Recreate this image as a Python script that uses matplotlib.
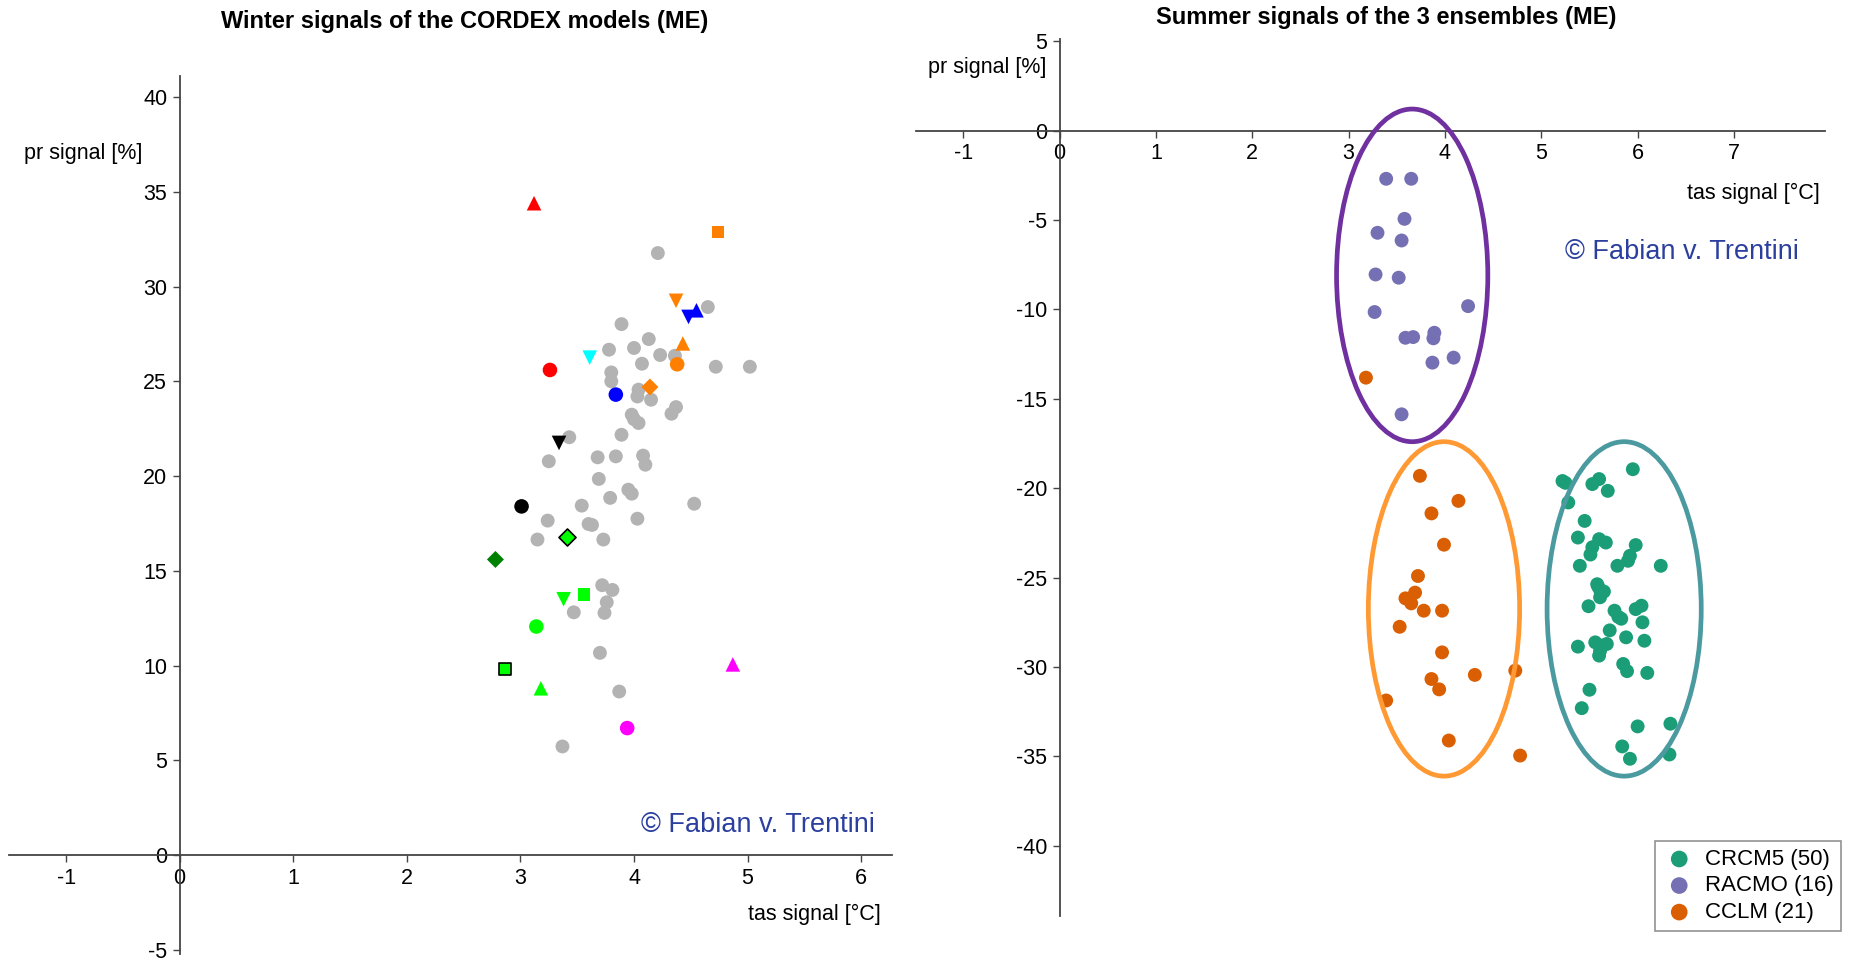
import numpy as np
import matplotlib.pyplot as plt
from matplotlib.patches import Ellipse

plt.rcParams['font.family'] = ['Liberation Sans', 'DejaVu Sans']
plt.rcParams['axes.unicode_minus'] = False

# winter: grey = all CORDEX models
grey_tas = [4.21, 4.65, 3.89, 4.13, 3.78, 4.00, 4.23, 4.36, 4.07, 4.72, 5.02, 3.80, 3.80,
            4.04, 4.03, 4.15, 4.37, 4.33, 3.98, 4.04, 4.00, 3.89, 3.43, 3.25, 3.68, 3.84,
            4.08, 4.10, 3.69, 3.79, 3.95, 3.98, 4.53, 3.54, 3.24, 3.60, 3.63, 4.03, 3.15,
            3.73, 3.72, 3.81, 3.76, 3.74, 3.47, 3.70, 3.87, 3.37]
grey_pr = [31.77, 28.92, 28.02, 27.23, 26.67, 26.76, 26.39, 26.35, 25.93, 25.77, 25.77, 25.47,
           25.0, 24.56, 24.2, 24.03, 23.64, 23.29, 23.24, 22.8, 23.0, 22.18, 22.05, 20.78,
           20.99, 21.04, 21.08, 20.6, 19.85, 18.85, 19.28, 19.07, 18.54, 18.44, 17.65, 17.47,
           17.42, 17.75, 16.65, 16.65, 14.24, 13.99, 13.34, 12.78, 12.81, 10.67, 8.63, 5.73]

# winter: highlighted models
hl_tas = [3.12, 4.74, 4.37, 4.55, 4.48, 4.43, 3.61, 3.26, 4.38, 4.14, 3.84, 3.34, 3.01,
          3.41, 2.78, 3.38, 3.56, 3.14, 2.86, 3.18, 4.87, 3.94]
hl_pr = [34.4, 32.9, 29.25, 28.75, 28.4, 27.0, 26.25, 25.6, 25.9, 24.7, 24.3, 21.75, 18.4,
         16.8, 15.6, 13.5, 13.75, 12.06, 9.8, 8.8, 10.06, 6.7]
hl_color = ['#ff0000', '#ff8000', '#ff8000', '#0000ff', '#0000ff', '#ff8000', '#00ffff',
            '#ff0000', '#ff8000', '#ff8000', '#0000ff', '#000000', '#000000', '#00ff00',
            '#008000', '#00ff00', '#00ff00', '#00ff00', '#00ff00', '#00ff00', '#ff00ff',
            '#ff00ff']
hl_marker = ['^', 's', 'v', '^', 'v', '^', 'v', 'o', 'o', 'D', 'o', 'v', 'o', 'D', 'D',
             'v', 's', 'o', 's', '^', '^', 'o']
hl_edge = ['none'] * 13 + ['black'] + ['none'] * 4 + ['black'] + ['none'] * 3

# summer: three ensembles
crcm5_tas = [5.95, 5.22, 5.25, 5.28, 5.53, 5.60, 5.69, 5.45, 5.38, 5.60, 5.67, 5.53, 5.51,
             5.98, 5.92, 5.90, 5.40, 5.79, 6.24, 5.58, 5.61, 5.65, 5.61, 5.49, 5.76, 5.80,
             5.83, 5.98, 6.04, 6.05, 5.71, 5.56, 5.61, 5.68, 5.88, 6.07, 5.38, 5.60, 5.85,
             5.89, 6.10, 5.50, 5.42, 6.00, 6.34, 5.84, 5.92, 6.33, 5.59, 5.63]
crcm5_pr = [-18.94, -19.6, -19.7, -20.8, -19.77, -19.49, -20.15, -21.83, -22.76, -22.85,
            -23.04, -23.3, -23.71, -23.18, -23.78, -24.06, -24.34, -24.34, -24.34, -25.37,
            -25.7, -25.78, -26.1, -26.6, -26.85, -27.2, -27.3, -26.76, -26.57, -27.5, -27.95,
            -28.62, -29.09, -28.71, -28.34, -28.53, -28.86, -29.36, -29.83, -30.23, -30.33,
            -31.27, -32.3, -33.32, -33.17, -34.44, -35.13, -34.89, -25.5, -28.8]
racmo_tas = [3.39, 3.65, 3.58, 3.30, 3.55, 3.28, 3.52, 4.24, 3.27, 3.59, 3.67, 3.89, 3.88,
             4.09, 3.87, 3.55]
racmo_pr = [-2.70, -2.70, -4.94, -5.72, -6.15, -8.05, -8.23, -9.82, -10.15, -11.59, -11.55,
            -11.31, -11.62, -12.70, -12.98, -15.87]
cclm_tas = [3.18, 3.74, 4.14, 3.86, 3.99, 3.72, 3.69, 3.59, 3.65, 3.78, 3.97, 3.53, 3.97,
            3.86, 3.94, 4.31, 4.73, 3.39, 4.04, 4.78, 3.62]
cclm_pr = [-13.82, -19.31, -20.71, -21.41, -23.16, -24.91, -25.84, -26.16, -26.44, -26.85,
           -26.85, -27.75, -29.18, -30.67, -31.25, -30.44, -30.20, -31.87, -34.11, -34.95,
           -26.2]

ens_names = ['CRCM5 (50)', 'RACMO (16)', 'CCLM (21)']
ens_colors = ['#1b9e77', '#7570b3', '#d95f02']

# cluster ellipses: centre x, centre y, width, height, colour
ell_x = [3.66, 3.99, 5.86]
ell_y = [-8.1, -26.75, -26.75]
ell_w = [1.57, 1.57, 1.6]
ell_h = [18.6, 18.7, 18.7]
ell_c = ['#7030a0', '#ff9933', '#4a9aa0']

axis_col = '#444444'
wm_col = '#2b3f9e'


def style_axes(ax, xticks, yticks):
    for s in ['top', 'right']:
        ax.spines[s].set_visible(False)
    for s in ['left', 'bottom']:
        ax.spines[s].set_position(('data', 0))
        ax.spines[s].set_color(axis_col)
        ax.spines[s].set_linewidth(1.3)
    ax.set_xticks(xticks)
    ax.set_yticks(yticks)
    ax.tick_params(direction='out', length=5, width=1, color=axis_col,
                   labelsize=15.5, pad=4)


fig = plt.figure(figsize=(18.58, 9.63), dpi=100)

# left: winter
ax1 = fig.add_axes([0.005, 0.0098, 0.475, 0.911])
ax1.scatter(grey_tas, grey_pr, s=100, color='#b3b3b3', edgecolors='none', zorder=2)
for x, y, c, m, e in zip(hl_tas, hl_pr, hl_color, hl_marker, hl_edge):
    sz = 75 if m in ('s', 'D') else 110
    ax1.scatter(x, y, s=sz, color=c, marker=m, edgecolors=e, linewidths=1.2, zorder=3)
ax1.set_xlim(-1.5, 6.27)
ax1.set_ylim(-5.2, 41.1)
style_axes(ax1, range(-1, 7), range(-5, 41, 5))
ax1.text(-0.85, 37.0, 'pr signal [%]', fontsize=15.5, ha='center', va='center')
ax1.text(5.59, -3.13, 'tas signal [°C]', fontsize=15.5, ha='center', va='center')
ax1.text(5.09, 1.56, '© Fabian v. Trentini', fontsize=19.5, color=wm_col,
         ha='center', va='center')
fig.text(0.25, 0.978, 'Winter signals of the CORDEX models (ME)', fontsize=17,
         fontweight='bold', ha='center', va='center')

# right: summer
ax2 = fig.add_axes([0.493, 0.0492, 0.489, 0.91])
ax2.scatter(crcm5_tas, crcm5_pr, s=100, color=ens_colors[0], edgecolors='none',
            zorder=3, label=ens_names[0])
ax2.scatter(racmo_tas, racmo_pr, s=100, color=ens_colors[1], edgecolors='none',
            zorder=3, label=ens_names[1])
ax2.scatter(cclm_tas, cclm_pr, s=100, color=ens_colors[2], edgecolors='none',
            zorder=3, label=ens_names[2])
for x, y, w, h, c in zip(ell_x, ell_y, ell_w, ell_h, ell_c):
    ax2.add_patch(Ellipse((x, y), w, h, fill=False, edgecolor=c, linewidth=3.4, zorder=4))
ax2.set_xlim(-1.49, 7.94)
ax2.set_ylim(-43.9, 5.1)
style_axes(ax2, range(-1, 8), range(-40, 6, 5))
ax2.text(-0.75, 3.5, 'pr signal [%]', fontsize=15.5, ha='center', va='center')
ax2.text(7.2, -3.5, 'tas signal [°C]', fontsize=15.5, ha='center', va='center')
ax2.text(6.46, -6.8, '© Fabian v. Trentini', fontsize=19.5, color=wm_col,
         ha='center', va='center')
fig.text(0.746, 0.982, 'Summer signals of the 3 ensembles (ME)', fontsize=17,
         fontweight='bold', ha='center', va='center')

h, l = ax2.get_legend_handles_labels()
leg = fig.legend(h, l, loc='lower right', bbox_to_anchor=(0.997, 0.022), fontsize=16,
                 fancybox=False, edgecolor='#777777', handletextpad=0.4,
                 borderpad=0.35, labelspacing=0.25, handlelength=1.5, markerscale=1.2)
leg.get_frame().set_linewidth(1.2)

fig.savefig('out.png', dpi=100)
